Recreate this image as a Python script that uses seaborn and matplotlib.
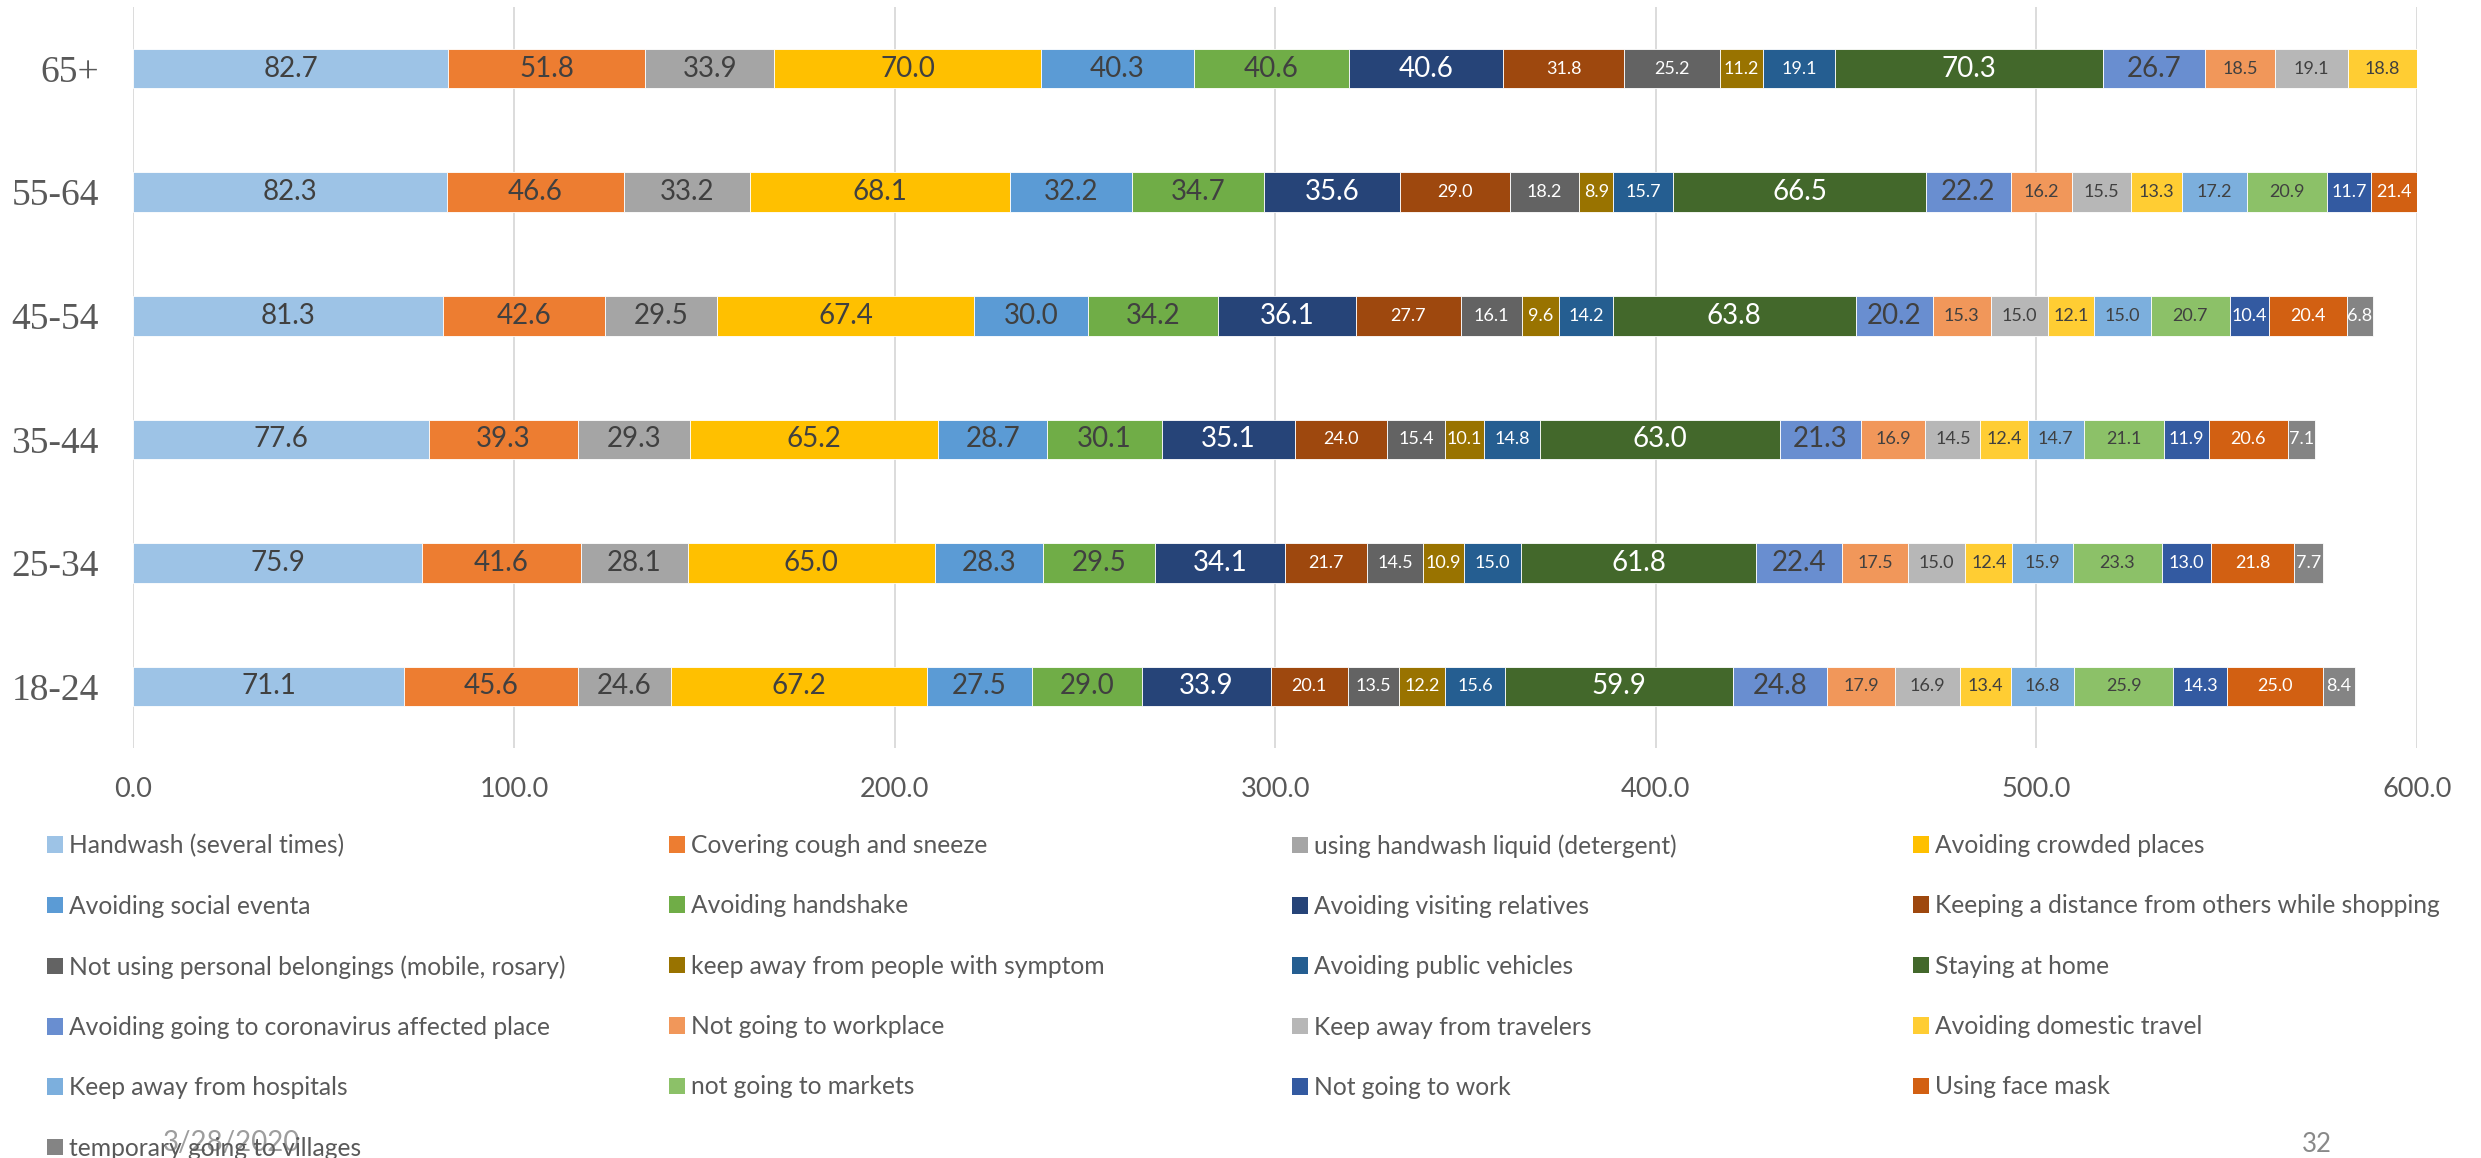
import numpy as np
import pandas as pd
import matplotlib
matplotlib.use("Agg")
import matplotlib.pyplot as plt
import seaborn as sns
from matplotlib.patches import Patch

# age groups, top to bottom
age_groups = ["65+", "55-64", "45-54", "35-44", "25-34", "18-24"]

behaviours = [
    "Handwash (several times)", "Covering cough and sneeze",
    "using handwash liquid (detergent)", "Avoiding crowded places",
    "Avoiding social eventa", "Avoiding handshake",
    "Avoiding visiting relatives", "Keeping a distance from others while shopping",
    "Not using personal belongings (mobile, rosary)", "keep away from people with symptom",
    "Avoiding public vehicles", "Staying at home",
    "Avoiding going to coronavirus affected place", "Not going to workplace",
    "Keep away from travelers", "Avoiding domestic travel",
    "Keep away from hospitals", "not going to markets",
    "Not going to work", "Using face mask",
    "temporary going to villages",
]

handwash = [82.7, 82.3, 81.3, 77.6, 75.9, 71.1]
covering_cough = [51.8, 46.6, 42.6, 39.3, 41.6, 45.6]
handwash_liquid = [33.9, 33.2, 29.5, 29.3, 28.1, 24.6]
crowded_places = [70.0, 68.1, 67.4, 65.2, 65.0, 67.2]
social_events = [40.3, 32.2, 30.0, 28.7, 28.3, 27.5]
handshake = [40.6, 34.7, 34.2, 30.1, 29.5, 29.0]
visiting_relatives = [40.6, 35.6, 36.1, 35.1, 34.1, 33.9]
distance_shopping = [31.8, 29.0, 27.7, 24.0, 21.7, 20.1]
personal_belongings = [25.2, 18.2, 16.1, 15.4, 14.5, 13.5]
people_symptom = [11.2, 8.9, 9.6, 10.1, 10.9, 12.2]
public_vehicles = [19.1, 15.7, 14.2, 14.8, 15.0, 15.6]
staying_home = [70.3, 66.5, 63.8, 63.0, 61.8, 59.9]
affected_place = [26.7, 22.2, 20.2, 21.3, 22.4, 24.8]
workplace = [18.5, 16.2, 15.3, 16.9, 17.5, 17.9]
travelers = [19.1, 15.5, 15.0, 14.5, 15.0, 16.9]
domestic_travel = [18.8, 13.3, 12.1, 12.4, 12.4, 13.4]
hospitals = [18.0, 17.2, 15.0, 14.7, 15.9, 16.8]
markets = [20.0, 20.9, 20.7, 21.1, 23.3, 25.9]
not_work = [12.0, 11.7, 10.4, 11.9, 13.0, 14.3]
face_mask = [20.0, 21.4, 20.4, 20.6, 21.8, 25.0]
villages = [8.0, 7.5, 6.8, 7.1, 7.7, 8.4]

series = [handwash, covering_cough, handwash_liquid, crowded_places, social_events,
          handshake, visiting_relatives, distance_shopping, personal_belongings,
          people_symptom, public_vehicles, staying_home, affected_place, workplace,
          travelers, domestic_travel, hospitals, markets, not_work, face_mask, villages]

colors = ["#9DC3E6", "#ED7D31", "#A5A5A5", "#FFC000", "#5B9BD5", "#70AD47",
          "#264478", "#9E480E", "#636363", "#997300", "#255E91", "#43682B",
          "#698ED0", "#F1975A", "#B7B7B7", "#FFCD33", "#7CAFDD", "#8CC168",
          "#335AA1", "#D26012", "#848484"]

white_text = {6, 7, 8, 9, 10, 11, 18, 19, 20}
big_text = {0, 1, 2, 3, 4, 5, 6, 11, 12}

sns.set_theme(style="white")
plt.rcParams["font.family"] = ["Lato", "DejaVu Sans"]

fig = plt.figure(figsize=(24.81, 11.58), dpi=100)
ax = fig.add_axes([0.0538, 0.354, 0.9204, 0.640])

left = np.zeros(len(age_groups))
for i, vals in enumerate(series):
    vals = np.array(vals)
    sns.barplot(x=vals, y=age_groups, order=age_groups, orient="h", color=colors[i],
                width=0.32, left=left, saturation=1, edgecolor="white",
                linewidth=0.6, ax=ax)
    labels = ax.bar_label(ax.containers[-1], fmt="%.1f", label_type="center",
                          color="white" if i in white_text else "#404040",
                          fontsize=20 if i in big_text else 13)
    for t in labels:
        t.set_clip_on(True)
        t.set_clip_box(ax.bbox)
    left = left + vals

ax.set_xlim(0, 600)
ax.set_ylim(5.5, -0.5)
ax.set_xticks(np.arange(0, 601, 100))
ax.set_xticklabels([f"{v:.1f}" for v in np.arange(0, 601, 100)])
ax.set_xlabel("")
ax.set_ylabel("")
ax.xaxis.grid(True, color="#D9D9D9", linewidth=1.3)
ax.yaxis.grid(False)
ax.set_axisbelow(True)
for s in ax.spines.values():
    s.set_visible(False)
ax.tick_params(axis="x", length=0, pad=21, labelsize=19.5, labelcolor="#595959")
ax.tick_params(axis="y", length=0, pad=25, labelcolor="#595959")
for lab in ax.get_yticklabels():
    lab.set_fontfamily("Liberation Serif")
    lab.set_fontsize(27)

# legend in 4 columns, row-major order
col_x = [47, 669, 1292, 1913]
for c in range(4):
    idx = list(range(c, len(behaviours), 4))
    handles = [Patch(facecolor=colors[k], edgecolor="none") for k in idx]
    fig.legend(handles, [behaviours[k] for k in idx], loc="upper left",
               bbox_to_anchor=(col_x[c] / 2481, (1158 - 834) / 1158),
               frameon=False, fontsize=17.7, labelcolor="#595959",
               handlelength=0.66, handleheight=0.66, handletextpad=0.22,
               labelspacing=1.52, borderpad=0, borderaxespad=0)

fig.text(163 / 2481, 1 - 1143 / 1158, "3/28/2020", fontsize=20, color="#8C8C8C",
         alpha=0.85, va="center", ha="left")
fig.text(2317 / 2481, 1 - 1145 / 1158, "32", fontsize=18.5, color="#898989",
         va="center", ha="center")

fig.savefig("out.png", dpi=100)
